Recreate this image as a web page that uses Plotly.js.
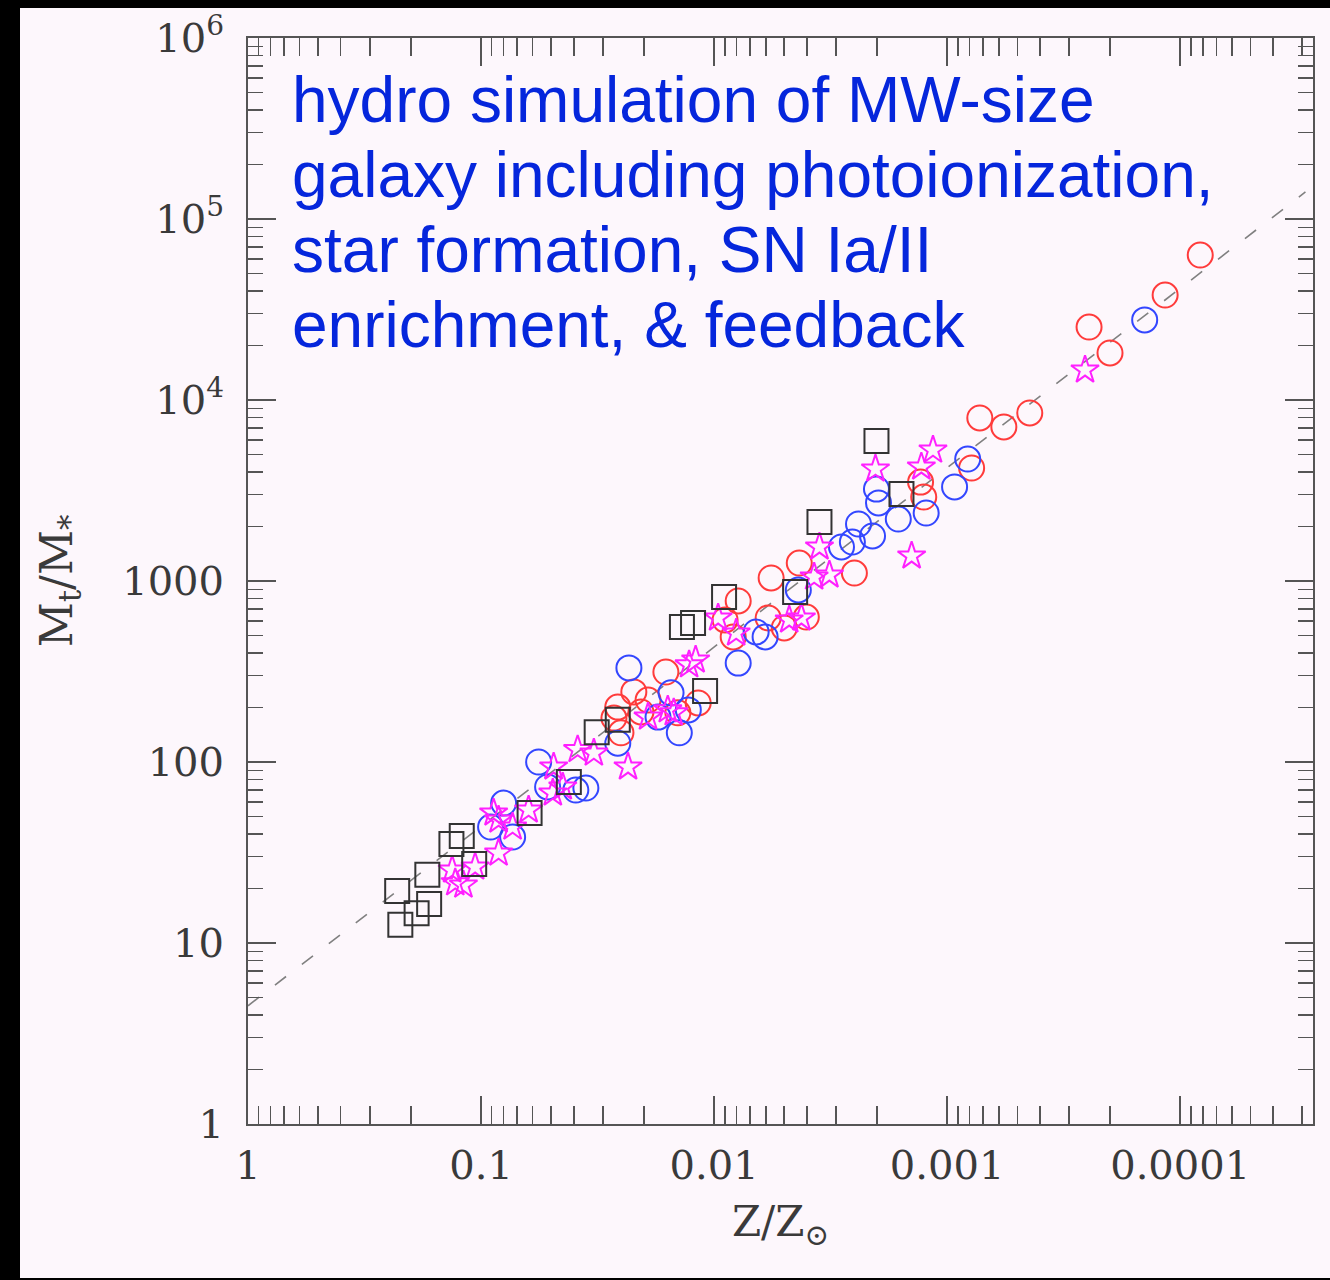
<!DOCTYPE html>
<html>
<head>
<meta charset="utf-8">
<script src="https://cdn.plot.ly/plotly-3.0.1.min.js"></script>
<style>
  html, body { margin:0; padding:0; background:#000; width:1330px; height:1280px; overflow:hidden; }
  #chart { position:absolute; left:20px; top:8px; width:1310px; height:1270px; }
</style>
</head>
<body>
<div id="chart"></div>
<script>
// ---- data (Z/Zsun, Mt/M*) ----
var squareZ = [0.222,0.229,0.189,0.167,0.170,0.134,0.121,0.107,0.0619,0.0420,0.0319,0.0259,0.01374,0.01231,0.01093,0.00906,0.00449,0.00353,0.00201,0.00157];
var squareM = [12.6,19.4,14.6,16.4,23.8,35.2,39.0,27.3,52.3,77.6,146,171,557,586,247,816,869,2118,5934,3026];

var redZ = [8.20e-5,1.16e-4,2.46e-4,2.00e-4,7.24e-4,5.71e-4,4.42e-4,7.85e-4,1.30e-3,2.50e-3,4.31e-3,5.69e-3,7.88e-3,8.97e-3,5.86e-3,4.02e-3,5.00e-3,8.28e-3,0.0161,0.0192,0.0221,0.0259,0.0206,0.0143,0.0117,0.0269,1.26e-3,0.0251];
var redM = [63200,38000,25300,18200,7960,7100,8480,4210,3520,1107,1257,1039,776,609,625,632,550,491,314,220,244,201,189,187,212,175,2910,145];

var blueZ = [1.42e-4,8.16e-4,9.29e-4,1.23e-3,1.62e-3,2.01e-3,1.97e-3,2.40e-3,2.09e-3,2.55e-3,2.84e-3,6.04e-3,7.88e-3,6.60e-3,4.35e-3,0.0153,0.0129,0.0232,0.0141,0.0174,0.0566,0.0355,0.0518,0.0800,0.0732,0.0910,0.0392,0.0259];
var blueM = [27700,4720,3310,2375,2200,3220,2700,2065,1773,1642,1542,491,352,523,892,241,194,331,145,177,100,71.8,72.8,59.3,38.5,43.7,70.0,127];

var starZ = [2.56e-4,1.15e-3,1.29e-3,2.03e-3,3.53e-3,3.20e-3,1.42e-3,3.72e-3,9.61e-3,8.04e-3,4.76e-3,4.22e-3,0.0128,0.0120,0.0149,0.0192,0.0158,0.0234,0.0328,0.0385,0.0488,0.0883,0.129,0.106,0.133,0.0841,0.0841,0.0732,0.0625,0.0492,0.0446,0.119];
var starM = [14650,5290,4265,4155,1542,1080,1375,1052,625,516,609,625,344,366,187,177,194,93.9,112,117,93.9,52.3,21.5,26.3,25.3,31.4,47.8,43.7,54.3,67.4,72.8,20.9];

var lineZ = [1, 2.9e-5];
var lineM = [4.5, 1.41e5];

var xTickVals = [1, 0.1, 0.01, 0.001, 0.0001];
var xTickText = ['1', '0.1', '0.01', '0.001', '0.0001'];
var yTickVals = [1, 10, 100, 1000, 1e4, 1e5, 1e6];
var yTickText = ['1', '10', '100', '1000', '10<sup>4</sup>', '10<sup>5</sup>', '10<sup>6</sup>'];

var noteLines = [
  'hydro simulation of MW-size',
  'galaxy including photoionization,',
  'star formation, SN Ia/II',
  'enrichment, & feedback'
];

// ---- helpers ----
function minorVals(lo, hi) {
  var v = [];
  for (var e = lo; e < hi; e++) for (var d = 2; d <= 9; d++) v.push(d * Math.pow(10, e));
  return v;
}

var axisCol = '#555';
var tickFont = {family: 'DejaVu Serif, serif', size: 40, color: '#3a3a3a'};

var traces = [
  {x: lineZ, y: lineM, mode: 'lines', line: {color: '#808080', width: 1.6, dash: '14px,20px'}, hoverinfo: 'skip'},
  {x: redZ, y: redM, mode: 'markers', marker: {symbol: 'circle-open', size: 25, color: '#ff3b3b', line: {width: 2}}},
  {x: blueZ, y: blueM, mode: 'markers', marker: {symbol: 'circle-open', size: 25, color: '#3346ff', line: {width: 2}}},
  {x: starZ, y: starM, mode: 'markers', marker: {symbol: 'star-open', size: 21, color: '#ff20ff', line: {width: 2}}},
  {x: squareZ, y: squareM, mode: 'markers', marker: {symbol: 'square-open', size: 24, color: '#333333', line: {width: 2}}}
];

var lineTops = [0.978, 0.909, 0.840, 0.771];
var annotations = noteLines.map(function (t, i) {
  return {
    text: t, xref: 'paper', yref: 'paper', x: 0.039, y: lineTops[i],
    xanchor: 'left', yanchor: 'top', showarrow: false, align: 'left',
    font: {family: 'Liberation Sans, Arial, sans-serif', size: 64, color: '#0526dc'}
  };
});

var layout = {
  width: 1310, height: 1270,
  margin: {l: 228, r: 17, t: 30, b: 154},
  paper_bgcolor: '#fdf7fc', plot_bgcolor: '#fdf7fc',
  showlegend: false,
  xaxis: {
    type: 'log', range: [0, -4.57],
    tickmode: 'array', tickvals: xTickVals, ticktext: xTickText,
    ticks: 'inside', ticklen: 28, tickwidth: 2, tickcolor: axisCol,
    showline: true, linecolor: axisCol, linewidth: 2, mirror: 'ticks',
    showgrid: false, zeroline: false, tickfont: tickFont, ticklabelstandoff: 5,
    minor: {tickmode: 'array', tickvals: minorVals(-5, 0), ticks: 'inside', ticklen: 18, tickwidth: 1.5, tickcolor: axisCol, showgrid: false},
    title: {text: 'Z/Z<sub>⊙</sub>', font: {family: 'DejaVu Serif, serif', size: 42, color: '#3a3a3a'}, standoff: 20}
  },
  yaxis: {
    type: 'log', range: [0, 6],
    tickmode: 'array', tickvals: yTickVals, ticktext: yTickText,
    ticks: 'inside', ticklen: 28, tickwidth: 2, tickcolor: axisCol,
    showline: true, linecolor: axisCol, linewidth: 2, mirror: 'ticks',
    showgrid: false, zeroline: false, tickfont: tickFont, ticklabelstandoff: 14,
    minor: {tickmode: 'array', tickvals: minorVals(0, 6), ticks: 'inside', ticklen: 15, tickwidth: 1.5, tickcolor: axisCol, showgrid: false},
    title: {text: 'M<sub>t</sub>/M<sub>*</sub>', font: {family: 'DejaVu Serif, serif', size: 44, color: '#3a3a3a'}, standoff: 36}
  },
  annotations: annotations
};

Plotly.newPlot('chart', traces, layout, {staticPlot: true, displayModeBar: false});
</script>
</body>
</html>
